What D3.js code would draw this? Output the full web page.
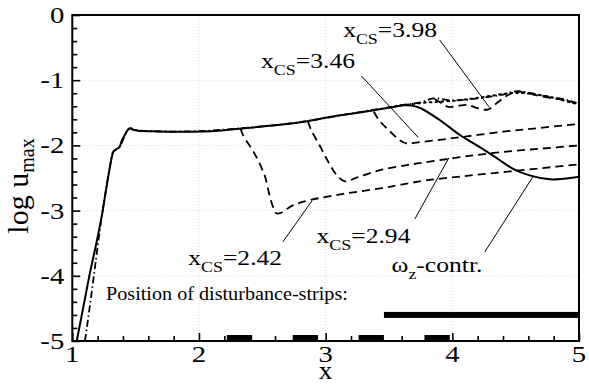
<!DOCTYPE html>
<html>
<head>
<meta charset="utf-8">
<script src="https://cdn.jsdelivr.net/npm/d3@7"></script>
<style>
  html, body { margin: 0; padding: 0; background: #fff; }
  svg { display: block; }
  text { font-family: "Liberation Serif", "Times New Roman", serif; fill: #000; }
</style>
</head>
<body>
<svg id="chart" width="589" height="385"></svg>
<script>
// ---- axis ticks ----
const xTicks = [1, 2, 3, 4, 5];
const yTicks = [0, -1, -2, -3, -4, -5];

// ---- curves: [x, log u_max] ----
const omegaContr = [[1.035,-5],[1.09,-4.45],[1.14,-3.95],[1.19,-3.5],[1.234,-3.07],[1.265,-2.7],
  [1.297,-2.33],[1.312,-2.18],[1.323,-2.10],[1.345,-2.06],[1.371,-2.03],[1.39,-1.93],[1.42,-1.82],
  [1.45,-1.74],[1.48,-1.76],[1.52,-1.775],[1.69,-1.785],[1.93,-1.79],[2.13,-1.78],[2.32,-1.745],
  [2.555,-1.70],[2.79,-1.65],[3.03,-1.565],[3.27,-1.495],[3.51,-1.42],[3.61,-1.385],[3.68,-1.39],
  [3.75,-1.43],[3.90,-1.61],[4.06,-1.84],[4.22,-2.03],[4.37,-2.22],[4.48,-2.36],[4.61,-2.46],
  [4.77,-2.52],[4.88,-2.51],[5.0,-2.48]];

const uncontrolled = [[1.10,-5],[1.15,-4.3],[1.19,-3.7],[1.234,-3.07],[1.297,-2.33],[1.323,-2.10],
  [1.371,-2.03],[1.45,-1.74],[1.52,-1.77],[1.93,-1.785],[2.32,-1.74],[2.79,-1.645],[3.27,-1.49],
  [3.61,-1.38],[3.75,-1.34],[3.85,-1.28],[4.0,-1.31],[4.2,-1.28],[4.4,-1.22],[4.5,-1.17],
  [4.6,-1.19],[4.75,-1.25],[4.9,-1.30],[4.98,-1.35]];

const dottedCase = [[3.55,-1.40],[3.65,-1.375],[3.78,-1.345],[4.04,-1.31],[4.27,-1.25],[4.40,-1.21],
  [4.48,-1.195],[4.57,-1.20],[4.66,-1.22],[4.8,-1.27],[4.93,-1.34],[5.0,-1.37]];

const cs242 = [[2.33,-1.745],[2.347,-1.84],[2.44,-2.13],[2.52,-2.47],[2.56,-2.79],[2.59,-2.97],
  [2.61,-3.04],[2.64,-3.04],[2.74,-2.92],[2.875,-2.84],[3.15,-2.74],[3.43,-2.66],[3.6,-2.60],
  [3.82,-2.53],[4.1,-2.47],[4.4,-2.41],[4.7,-2.35],[5.0,-2.29]];

const cs294 = [[2.86,-1.63],[2.885,-1.76],[2.95,-1.99],[3.02,-2.25],[3.085,-2.45],[3.15,-2.55],
  [3.25,-2.49],[3.43,-2.38],[3.65,-2.30],[3.82,-2.25],[4.1,-2.17],[4.4,-2.10],[4.7,-2.05],[5.0,-2.00]];

const cs346 = [[3.38,-1.48],[3.42,-1.61],[3.50,-1.77],[3.585,-1.92],[3.64,-1.97],[3.70,-1.96],
  [4.0,-1.89],[4.4,-1.79],[4.7,-1.73],[5.0,-1.67]];

const cs398 = [[3.86,-1.29],[3.92,-1.36],[3.97,-1.41],[4.05,-1.39],[4.12,-1.38],[4.2,-1.43],
  [4.28,-1.45],[4.34,-1.37],[4.42,-1.25],[4.5,-1.18],[4.58,-1.19],[4.68,-1.24],[4.8,-1.28],
  [4.9,-1.31],[4.98,-1.35]];

// ---- disturbance strips ----
const stripStart = [2.22, 2.74, 3.26, 3.78];
const stripEnd   = [2.42, 2.94, 3.46, 3.98];
const contrBar   = [3.46, 5.0];   // x-extent of the ω_z control region
const contrBarLevel = -4.6;

// ---- annotations: label text, label anchor, leader start/end ----
const labelNames  = ["3.98", "3.46", "2.42", "2.94"];
const labelAnchor = [[3.138,-0.333],[2.49,-0.813],[1.915,-3.834],[2.928,-3.502]];
const leaderFrom  = [[3.90,-0.383],[3.283,-0.936],[2.662,-3.48],[3.704,-3.13]];
const leaderTo    = [[4.29,-1.41],[3.73,-1.876],[2.891,-2.853],[3.972,-2.193]];
const omegaAnchor = [3.52,-3.937];
const omegaLeader = [[4.256,-3.635],[4.635,-2.485]];
const stripNoteAnchor = [1.266,-4.371];

// ---- layout ----
const svg = d3.select("#chart");
const x = d3.scaleLinear().domain([1, 5]).range([72.3, 579]);
const y = d3.scaleLinear().domain([0, -5]).range([15, 341]);
const TSX = 1.25;   // horizontal stretch of the lettering

// faint dotted grid
const grid = svg.append("g").attr("stroke", "#d8d8d8").attr("stroke-width", 1).attr("stroke-dasharray", "1,2");
grid.selectAll("line.gx").data(xTicks.slice(1, -1)).join("line")
  .attr("x1", d => x(d)).attr("x2", d => x(d)).attr("y1", y(0)).attr("y2", y(-5));
grid.selectAll("line.gy").data(yTicks.slice(1, -1)).join("line")
  .attr("y1", d => y(d)).attr("y2", d => y(d)).attr("x1", x(1)).attr("x2", x(5));

// minor + major inward ticks
const xMinor = d3.range(1, 5.0001, 0.2).filter(v => Math.abs(v - Math.round(v)) > 1e-6);
const yMinor = d3.range(0, -5.0001, -0.2).filter(v => Math.abs(v - Math.round(v)) > 1e-6);
function styleAxis(g) {
  g.select(".domain").remove();
  g.selectAll("line").attr("stroke", "#000").attr("stroke-width", 1.6);
  g.selectAll("text").remove();
}
svg.append("g").attr("transform", `translate(0,${y(-5)})`)
  .call(d3.axisBottom(x).tickValues(xTicks).tickSize(-8)).call(styleAxis);
svg.append("g").attr("transform", `translate(0,${y(-5)})`)
  .call(d3.axisBottom(x).tickValues(xMinor).tickSize(-5)).call(styleAxis);
svg.append("g").attr("transform", `translate(${x(1)},0)`)
  .call(d3.axisLeft(y).tickValues(yTicks).tickSize(-8)).call(styleAxis);
svg.append("g").attr("transform", `translate(${x(1)},0)`)
  .call(d3.axisLeft(y).tickValues(yMinor).tickSize(-5)).call(styleAxis);

// frame
svg.append("rect").attr("x", x(1)).attr("y", y(0))
  .attr("width", x(5) - x(1)).attr("height", y(-5) - y(0))
  .attr("fill", "none").attr("stroke", "#000").attr("stroke-width", 2);

function stretched(px, py, sx) {
  return svg.append("g").attr("transform", `translate(${px},${py}) scale(${sx},1)`).append("text");
}

// tick labels
xTicks.forEach(v => {
  stretched(x(v), 362, TSX).attr("text-anchor", "middle").attr("font-size", 23).text(v);
});
yTicks.forEach(v => {
  stretched(x(1) - 8, y(v) + 8, TSX).attr("text-anchor", "end").attr("font-size", 23).text(v);
});

// axis titles
stretched(x(3), 379, 1.1).attr("text-anchor", "middle").attr("font-size", 25).text("x");
const yt = svg.append("text").attr("font-size", 30).attr("text-anchor", "middle")
  .attr("transform", `translate(28,186) rotate(-90)`);
yt.append("tspan").text("log u");
yt.append("tspan").attr("font-size", 20).attr("dy", 6).text("max");

// curves
const lineCR = d3.line().x(d => x(d[0])).y(d => y(d[1])).curve(d3.curveCatmullRom.alpha(0.5));
const curves = svg.append("g").attr("fill", "none").attr("stroke", "#000")
  .attr("stroke-linejoin", "round");

curves.append("path").datum(dottedCase).attr("d", lineCR)
  .attr("stroke-width", 2).attr("stroke-dasharray", "1.6,4.2").attr("stroke-linecap", "round");
curves.append("path").datum(uncontrolled).attr("d", lineCR)
  .attr("stroke-width", 1.8).attr("stroke-dasharray", "7,3,1.5,3");
[cs242, cs294, cs346, cs398].forEach(c => {
  curves.append("path").datum(c).attr("d", lineCR)
    .attr("stroke-width", 1.8).attr("stroke-dasharray", "8,5");
});
curves.append("path").datum(omegaContr).attr("d", lineCR).attr("stroke-width", 2);

// disturbance strips on the wall and the ω_z control bar
svg.append("g").selectAll("rect").data(stripStart).join("rect")
  .attr("x", (d) => x(d)).attr("width", (d, i) => x(stripEnd[i]) - x(d))
  .attr("y", y(-5) - 6).attr("height", 6).attr("fill", "#000");
svg.append("rect").attr("x", x(contrBar[0])).attr("width", x(contrBar[1]) - x(contrBar[0]))
  .attr("y", y(contrBarLevel) - 3).attr("height", 6).attr("fill", "#000");

// leader lines
const leaders = svg.append("g").attr("stroke", "#000").attr("stroke-width", 1);
leaderFrom.concat([omegaLeader[0]]).forEach((p, i) => {
  const q = i < leaderTo.length ? leaderTo[i] : omegaLeader[1];
  leaders.append("line").attr("x1", x(p[0])).attr("y1", y(p[1]))
    .attr("x2", x(q[0])).attr("y2", y(q[1]));
});

// x_CS labels
labelNames.forEach((n, i) => {
  const t = stretched(x(labelAnchor[i][0]), y(labelAnchor[i][1]), 1.28).attr("font-size", 20);
  t.append("tspan").text("x");
  t.append("tspan").attr("font-size", 14).attr("dy", 7).text("CS");
  t.append("tspan").attr("dy", -7).text("=" + n);
});
const om = stretched(x(omegaAnchor[0]), y(omegaAnchor[1]), 1.28).attr("font-size", 20);
om.append("tspan").text("ω");
om.append("tspan").attr("font-size", 14).attr("dy", 7).text("z");
om.append("tspan").attr("dy", -7).text("-contr.");

stretched(x(stripNoteAnchor[0]), y(stripNoteAnchor[1]), 1.12).attr("font-size", 18)
  .text("Position of disturbance-strips:");
</script>
</body>
</html>
